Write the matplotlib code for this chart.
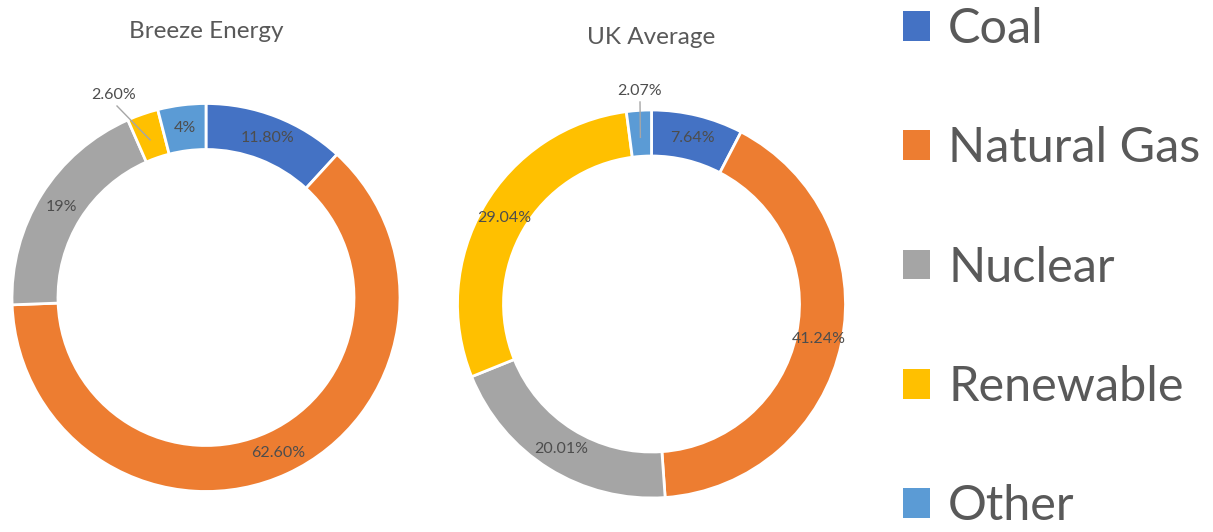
import numpy as np
import matplotlib.pyplot as plt
from matplotlib.patches import Patch

plt.rcParams['font.family'] = ['Lato', 'DejaVu Sans']

sources = ['Coal', 'Natural Gas', 'Nuclear', 'Renewable', 'Other']
colors = ['#4472C4', '#ED7D31', '#A5A5A5', '#FFC000', '#5B9BD5']

breeze = [11.8, 62.6, 19.0, 2.6, 4.0]
breeze_labels = ['11.80%', '62.60%', '19%', '2.60%', '4%']
uk = [7.64, 41.24, 20.01, 29.04, 2.07]
uk_labels = ['7.64%', '41.24%', '20.01%', '29.04%', '2.07%']

W, H = 1213, 532
txt = '#595959'

fig = plt.figure(figsize=(W / 100, H / 100), dpi=100)
ax = fig.add_axes([0, 0, 1, 1])

R = 194
ring = 46


def donut(values, labels, cx, cy, title, title_y, outside):
    # y measured from top of the image, flip for the axes
    c = (cx, H - cy)
    wedges, _ = ax.pie(values, colors=colors, startangle=90, counterclock=False,
                       radius=R, center=c,
                       wedgeprops=dict(width=ring, edgecolor='white', linewidth=2))
    for i, (w, lab) in enumerate(zip(wedges, labels)):
        ang = np.deg2rad((w.theta1 + w.theta2) / 2)
        rm = R - ring / 2
        px = c[0] + rm * np.cos(ang)
        py = c[1] + rm * np.sin(ang)
        if i in outside:
            lx, ly, sx, sy = outside[i]
            ax.plot([lx + sx, px], [H - ly + sy, py - 4], color='#A6A6A6', lw=1)
            ax.text(lx, H - ly, lab, ha='center', va='center', fontsize=11.5, color='#4d4d4d')
        else:
            ax.text(px, py, lab, ha='center', va='center', fontsize=11.5, color='#4d4d4d')
    ax.text(cx, H - title_y, title, ha='center', va='center', fontsize=17.5, color=txt)


donut(breeze, breeze_labels, 206, 297.5, 'Breeze Energy', 32, {3: (114, 95, 3, -11)})
donut(uk, uk_labels, 651.5, 304, 'UK Average', 38, {4: (640, 91, 0, -11)})

ax.set_xlim(0, W)
ax.set_ylim(0, H)
ax.set_aspect('equal')
ax.axis('off')

handles = [Patch(facecolor=col, edgecolor='none') for col in colors]
ax.legend(handles, sources, loc='upper left', bbox_to_anchor=(903 / W, 1 - 7 / H),
          bbox_transform=fig.transFigure, frameon=False, fontsize=35,
          handlelength=0.56, handleheight=0.56, handletextpad=0.37,
          labelspacing=1.55, borderpad=0, borderaxespad=0, labelcolor=txt)

fig.savefig('out.png', dpi=100)
